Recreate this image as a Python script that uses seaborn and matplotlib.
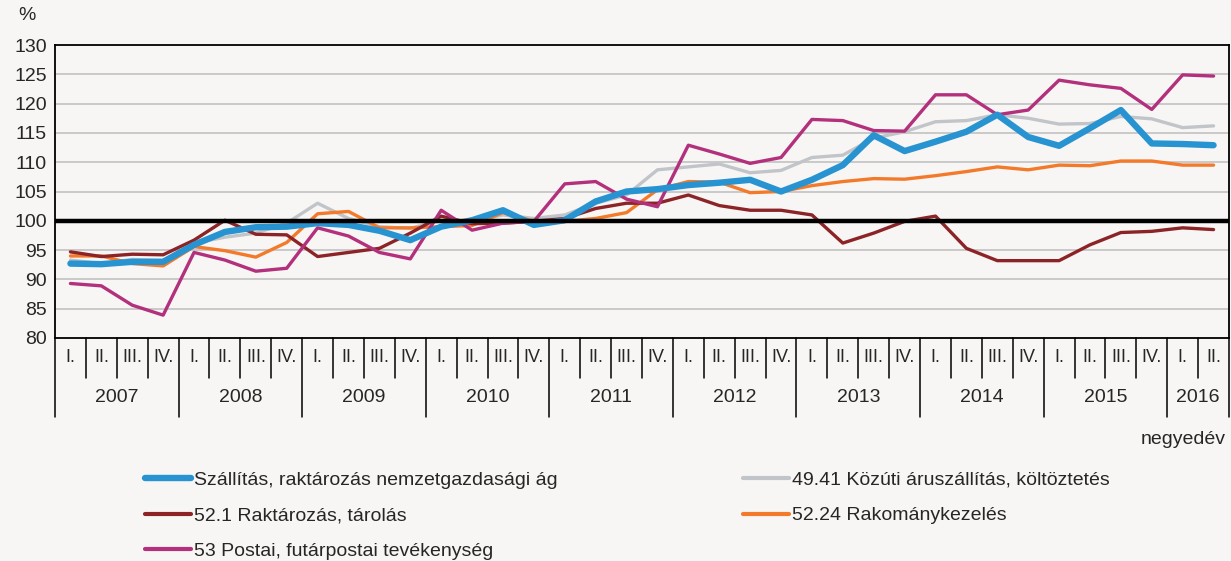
import matplotlib
matplotlib.use("Agg")
import matplotlib.pyplot as plt
import matplotlib.transforms as mtransforms
from matplotlib.lines import Line2D
import numpy as np
import pandas as pd
import seaborn as sns

years = ["2007", "2008", "2009", "2010", "2011", "2012", "2013", "2014", "2015", "2016"]
quarters = ["I.", "II.", "III.", "IV."]
quarter_labels = [q for y in years[:-1] for q in quarters] + ["I.", "II."]

szallitas = [92.7, 92.6, 93.0, 93.0, 95.9, 98.1, 98.9, 99.0, 99.6, 99.3, 98.3, 96.7,
             99.0, 100.1, 101.8, 99.3, 100.1, 103.3, 105.0, 105.4, 106.1, 106.5, 107.0, 105.0,
             107.0, 109.5, 114.6, 111.9, 113.5, 115.2, 118.1, 114.3, 112.8, 115.8, 118.9, 113.2,
             113.1, 112.9]
kozuti = [93.3, 92.7, 93.4, 93.2, 96.2, 97.2, 97.9, 99.6, 103.0, 100.4, 99.0, 98.7,
          100.1, 99.9, 101.0, 100.4, 101.0, 103.0, 104.4, 108.7, 109.2, 109.7, 108.2, 108.6,
          110.8, 111.2, 114.1, 115.2, 116.9, 117.1, 118.1, 117.5, 116.5, 116.6, 117.8, 117.4,
          115.9, 116.2]
raktarozas = [94.7, 93.9, 94.3, 94.2, 96.7, 100.1, 97.7, 97.6, 93.9, 94.6, 95.3, 97.9,
              100.8, 99.5, 99.6, 99.9, 100.4, 102.1, 103.0, 103.0, 104.4, 102.6, 101.8, 101.8,
              101.0, 96.2, 97.9, 99.9, 100.8, 95.3, 93.2, 93.2, 93.2, 95.9, 98.0, 98.2,
              98.8, 98.5]
rakomany = [94.0, 94.0, 92.7, 92.3, 95.6, 94.9, 93.8, 96.3, 101.2, 101.6, 98.8, 98.8,
            99.0, 99.2, 101.4, 99.9, 99.9, 100.4, 101.4, 105.3, 106.7, 106.6, 104.8, 105.0,
            106.0, 106.7, 107.2, 107.1, 107.7, 108.4, 109.2, 108.7, 109.5, 109.4, 110.2, 110.2,
            109.5, 109.5]
postai = [89.3, 88.9, 85.6, 83.9, 94.6, 93.3, 91.4, 91.9, 98.8, 97.4, 94.6, 93.5,
          101.8, 98.4, 99.6, 99.9, 106.3, 106.7, 103.7, 102.4, 112.9, 111.4, 109.8, 110.8,
          117.3, 117.1, 115.4, 115.3, 121.5, 121.5, 118.1, 118.9, 124.0, 123.2, 122.6, 119.0,
          124.9, 124.7]

series_names = ["Szállítás, raktározás nemzetgazdasági ág",
                "49.41 Közúti áruszállítás, költöztetés",
                "52.1 Raktározás, tárolás",
                "52.24 Rakománykezelés",
                "53 Postai, futárpostai tevékenység"]
series_values = [szallitas, kozuti, raktarozas, rakomany, postai]
colors = ["#2793d1", "#c1c4c8", "#8c2427", "#f47a2b", "#b3307c"]
widths = [4.6, 2.4, 2.4, 2.4, 2.4]

bg = "#f7f6f4"
sns.set_style("white")
plt.rcParams["font.family"] = ["Liberation Sans", "DejaVu Sans"]

fig = plt.figure(figsize=(12.31, 5.61), dpi=100, facecolor=bg)
ax = fig.add_axes([55 / 1231, 1 - 338 / 561, 1174 / 1231, 293 / 561])
ax.set_facecolor(bg)

x = np.arange(len(quarter_labels))
rows = []
for name, vals in zip(series_names, series_values):
    for i, v in enumerate(vals):
        rows.append({"x": i, "value": v, "series": name})
df = pd.DataFrame(rows)

for yv in range(85, 130, 5):
    ax.axhline(yv, color="#c6c6c6", lw=1.3, zorder=0)

# thin lines first, main series on top
order = [1, 3, 2, 4, 0]
for k in order:
    sub = df[df["series"] == series_names[k]]
    sns.lineplot(data=sub, x="x", y="value", ax=ax, color=colors[k], lw=widths[k],
                 legend=False, zorder=3 + (k == 0), solid_capstyle="round")

ax.axhline(100, color="black", lw=3.2, zorder=5)

ax.set_xlim(-0.5, len(x) - 0.5)
ax.set_ylim(80, 130)
ax.set_yticks(range(80, 131, 5))
ax.tick_params(axis="y", labelsize=14, length=0, pad=6)
ax.set_xticks([])
ax.set_xlabel("")
ax.set_ylabel("")
for s in ax.spines.values():
    s.set_visible(True)
    s.set_color("black")
    s.set_linewidth(1.3)

# category table under the axis
trans = mtransforms.blended_transform_factory(ax.transData, ax.transAxes)
q_depth = -40 / 293
y_depth = -79 / 293
for k in range(len(x) + 1):
    is_year = (k % 4 == 0) or k == len(x)
    ax.plot([k - 0.5, k - 0.5], [0, y_depth if is_year else q_depth], transform=trans,
            color="black", lw=1.1, clip_on=False)
for i, lab in enumerate(quarter_labels):
    ax.text(i, -20 / 293, lab, transform=trans, ha="center", va="center", fontsize=13)
for j, yr in enumerate(years):
    start = j * 4
    end = min(start + 4, len(x))
    ax.text((start + end - 1) / 2, -60 / 293, yr, transform=trans, ha="center",
            va="center", fontsize=14)

fig.text(27 / 1231, 1 - 16 / 561, "%", ha="center", va="center", fontsize=14)
fig.text(1226 / 1231, 1 - 440 / 561, "negyedév", ha="right", va="center", fontsize=14)

handles = [Line2D([], [], color=colors[k], lw=widths[k] if k == 0 else 3,
                  solid_capstyle="round") for k in range(5)]
leg_kw = dict(loc="upper left", frameon=False, fontsize=14, handlelength=2.35,
              handletextpad=0.15, labelspacing=0.93, borderaxespad=0, borderpad=0)
left_items = [0, 2, 4]
right_items = [1, 3]
fig.legend([handles[k] for k in left_items], [series_names[k] for k in left_items],
           bbox_to_anchor=(145 / 1231, 1 - 471 / 561), **leg_kw)
fig.legend([handles[k] for k in right_items], [series_names[k] for k in right_items],
           bbox_to_anchor=(743 / 1231, 1 - 471 / 561), **leg_kw)

fig.savefig("out.png", dpi=100, facecolor=bg)
